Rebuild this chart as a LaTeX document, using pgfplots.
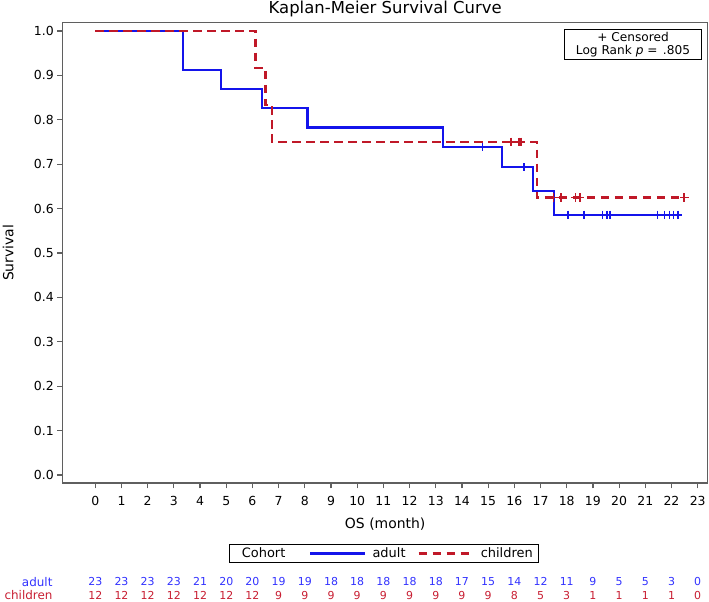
\documentclass[border=0pt]{standalone}
\usepackage{pgfplots}
\pgfplotsset{compat=1.18}
\usepackage{fontspec}
\setmainfont{DejaVu Sans}
\definecolor{kmblue}{RGB}{20,20,235}
\definecolor{kmred}{RGB}{192,24,40}
\definecolor{txtblue}{RGB}{50,50,255}
\definecolor{txtred}{RGB}{200,30,50}
\definecolor{framegray}{RGB}{95,95,95}
\begin{document}
\begin{tikzpicture}
\path[use as bounding box] (0,0) rectangle (709bp,602bp);
\begin{axis}[
  at={(62.7bp,119bp)}, anchor=south west,
  scale only axis, width=645bp, height=460.3bp,
  xmin=-1.245, xmax=23.383, ymin=-0.018, ymax=1.0187,
  clip=false,
  axis line style={framegray, line width=1.3bp},
  tick pos=left, tick align=outside,
  major tick length=5.5bp,
  tick style={framegray, line width=1.2bp},
  xtick={0,1,2,3,4,5,6,7,8,9,10,11,12,13,14,15,16,17,18,19,20,21,22,23},
  ytick={0,0.1,0.2,0.3,0.4,0.5,0.6,0.7,0.8,0.9,1.0},
  /pgf/number format/assume math mode=true,
  ticklabel style={font=\fontsize{12.5}{14}\selectfont},
  xticklabel style={anchor=base, yshift=-17.5bp},
  yticklabel style={/pgf/number format/fixed, /pgf/number format/fixed zerofill, /pgf/number format/precision=1},
  every axis title shift=0pt,
  title={Kaplan-Meier Survival Curve},
  title style={at={(axis description cs:0.5,1.0204)}, anchor=base, font=\fontsize{16.5}{18}\selectfont},
  xlabel={OS (month)},
  xlabel style={at={(axis description cs:0.5,-0.0978)}, anchor=base, font=\fontsize{14}{16}\selectfont},
  ylabel={Survival},
  ylabel style={at={(axis description cs:-0.0766,0.5)}, anchor=base, font=\fontsize{14}{16}\selectfont},
  legend columns=3,
  legend style={
    at={(axis description cs:0.4986,-0.1332)}, anchor=north,
    draw=black, line width=1bp,
    font=\fontsize{13}{15}\selectfont,
    inner xsep=6bp, inner ysep=3bp,
    nodes={inner sep=0pt},
    /tikz/every odd column/.style={column sep=6bp},
    /tikz/column 1/.style={column sep=0bp},
    /tikz/column 2/.style={column sep=24bp},
    /tikz/column 4/.style={column sep=12bp},
  },
  legend image code/.code={\draw[#1] (0bp,0bp) -- (55bp,0bp);},
]
\addlegendimage{empty legend}
\addlegendentry{Cohort}

% adult Kaplan-Meier step curve
\addplot[const plot, kmblue, line width=2.2bp] coordinates {
  (0,1) (3.34,0.9130) (4.80,0.8696) (6.35,0.8261) (8.10,0.7826)
  (13.29,0.7391) (15.53,0.6929) (16.72,0.6396) (17.51,0.5863) (22.39,0.5863)
};
\addlegendentry{adult}

% children Kaplan-Meier step curve
\addplot[const plot, kmred, line width=2.2bp, dash pattern=on 8.5bp off 5.5bp] coordinates {
  (0,1) (6.12,0.9167) (6.50,0.8333) (6.75,0.75) (16.85,0.625) (22.49,0.625)
};
\addlegendentry{children}

% censored marks
\addplot[forget plot, only marks, mark=+, mark size=4bp, kmblue, line width=1.6bp] coordinates {
  (14.78,0.7391) (16.37,0.6929)
  (18.04,0.5863) (18.66,0.5863) (19.37,0.5863) (19.53,0.5863) (19.65,0.5863)
  (21.46,0.5863) (21.73,0.5863) (21.92,0.5863) (22.07,0.5863) (22.25,0.5863)
};
\addplot[forget plot, only marks, mark=+, mark size=4.3bp, kmred, line width=1.7bp] coordinates {
  (15.86,0.75) (16.17,0.75) (16.25,0.75)
  (17.49,0.625) (17.77,0.625) (18.33,0.625) (18.51,0.625) (22.49,0.625)
};

% numbers at risk
\addplot[forget plot, draw=none, mark=none, point meta=explicit symbolic,
  nodes near coords={\smash{\pgfplotspointmeta}},
  every node near coord/.append style={inner sep=0pt, text=txtblue, font=\fontsize{11}{12}\selectfont}]
  table[meta=n] {
x y n
0 -0.25 23
1 -0.25 23
2 -0.25 23
3 -0.25 23
4 -0.25 21
5 -0.25 20
6 -0.25 20
7 -0.25 19
8 -0.25 19
9 -0.25 18
10 -0.25 18
11 -0.25 18
12 -0.25 18
13 -0.25 18
14 -0.25 17
15 -0.25 15
16 -0.25 14
17 -0.25 12
18 -0.25 11
19 -0.25 9
20 -0.25 5
21 -0.25 5
22 -0.25 3
23 -0.25 0
};
\addplot[forget plot, draw=none, mark=none, point meta=explicit symbolic,
  nodes near coords={\smash{\pgfplotspointmeta}},
  every node near coord/.append style={inner sep=0pt, text=txtred, font=\fontsize{11}{12}\selectfont}]
  table[meta=n] {
x y n
0 -0.2815 12
1 -0.2815 12
2 -0.2815 12
3 -0.2815 12
4 -0.2815 12
5 -0.2815 12
6 -0.2815 12
7 -0.2815 9
8 -0.2815 9
9 -0.2815 9
10 -0.2815 9
11 -0.2815 9
12 -0.2815 9
13 -0.2815 9
14 -0.2815 9
15 -0.2815 9
16 -0.2815 8
17 -0.2815 5
18 -0.2815 3
19 -0.2815 1
20 -0.2815 1
21 -0.2815 1
22 -0.2815 1
23 -0.2815 0
};

\node[anchor=base east, inner sep=0pt, text=txtblue, font=\fontsize{12}{13}\selectfont] at (axis cs:-1.627,-0.25) {adult};
\node[anchor=base east, inner sep=0pt, text=txtred, font=\fontsize{12}{13}\selectfont] at (axis cs:-1.627,-0.2815) {children};

\node[draw=black, line width=1bp, fill=white, align=center, inner sep=0pt,
  minimum width=137.4bp, minimum height=30.7bp,
  font=\fontsize{12.2}{14}\selectfont] at (axis description cs:0.8842,0.9523)
  {+ Censored\\Log Rank \textit{p} =\hspace{0.45em}.805};
\end{axis}
\end{tikzpicture}
\end{document}
